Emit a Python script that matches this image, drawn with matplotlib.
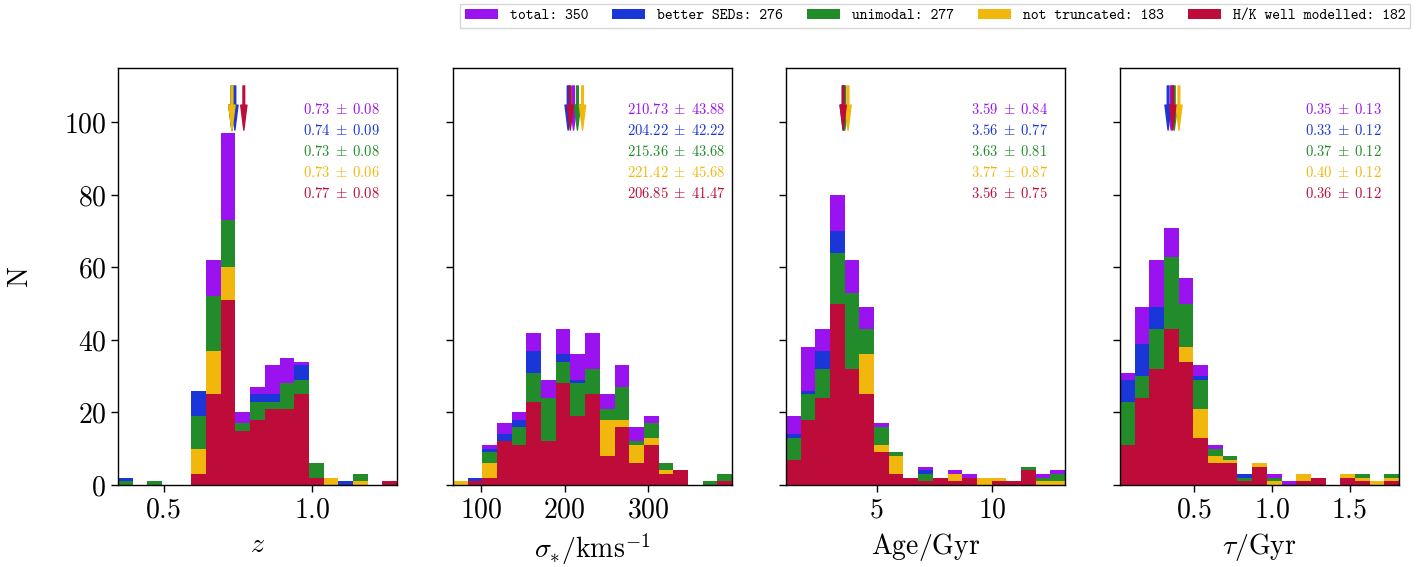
import numpy as np
import matplotlib
matplotlib.use("Agg")
import matplotlib.pyplot as plt
from matplotlib.patches import Patch

plt.rcParams['font.family'] = 'serif'
plt.rcParams['font.serif'] = ['cmr10', 'DejaVu Serif']
plt.rcParams['mathtext.fontset'] = 'cm'
plt.rcParams['axes.formatter.use_mathtext'] = True

# subsets, drawn in this order (each one on top of the previous)
labels = ['total: 350', 'better SEDs: 276', 'unimodal: 277',
          'not truncated: 183', 'H/K well modelled: 182']
colors = ['#9b12f0', '#1a36d8', '#228b2a', '#f2b70c', '#be0c3a']

# x ranges of the 19 equal-width bins per panel
z_range = (0.347, 1.285)
sig_range = (66.7, 400.0)
age_range = (1.09, 13.14)
tau_range = (0.02, 1.819)

# counts per bin (total, better SEDs, unimodal, not truncated, H/K)
z_counts = [
    [2, 0, 1, 0, 0, 26, 62, 97, 20, 27, 33, 35, 34, 6, 2, 1, 3, 0, 1],
    [2, 0, 1, 0, 0, 26, 48, 68, 15, 25, 25, 26, 33, 3, 1, 1, 2, 0, 0],
    [1, 0, 1, 0, 0, 19, 52, 73, 17, 23, 23, 28, 29, 6, 1, 0, 3, 0, 1],
    [0, 0, 0, 0, 0, 10, 37, 60, 11, 13, 15, 15, 18, 1, 2, 0, 1, 0, 0],
    [0, 0, 0, 0, 0, 3, 25, 51, 15, 18, 21, 21, 25, 2, 0, 0, 0, 0, 1],
]
sig_counts = [
    [1, 2, 11, 17, 20, 42, 29, 43, 36, 42, 25, 33, 16, 19, 6, 4, 0, 1, 3],
    [1, 2, 10, 14, 18, 37, 22, 36, 29, 29, 18, 24, 10, 15, 5, 3, 0, 1, 2],
    [1, 1, 9, 12, 16, 31, 24, 34, 28, 32, 21, 27, 12, 17, 6, 2, 0, 1, 3],
    [1, 1, 6, 10, 9, 19, 9, 23, 15, 21, 18, 18, 11, 13, 4, 4, 0, 0, 1],
    [0, 1, 2, 12, 11, 23, 12, 28, 19, 25, 8, 16, 6, 11, 3, 4, 0, 0, 1],
]
age_counts = [
    [19, 38, 43, 80, 62, 49, 17, 9, 2, 5, 2, 4, 3, 2, 2, 1, 5, 3, 4],
    [14, 26, 37, 70, 48, 38, 13, 7, 2, 4, 2, 2, 1, 1, 1, 1, 5, 2, 2],
    [13, 25, 32, 64, 53, 43, 16, 9, 1, 3, 2, 2, 1, 1, 1, 1, 5, 2, 3],
    [6, 15, 20, 42, 26, 36, 11, 8, 1, 1, 1, 3, 2, 2, 2, 1, 4, 1, 1],
    [7, 18, 24, 50, 32, 25, 9, 3, 2, 1, 2, 1, 2, 0, 1, 1, 4, 0, 0],
]
tau_counts = [
    [31, 49, 62, 71, 57, 33, 11, 8, 3, 6, 3, 1, 3, 2, 0, 3, 3, 1, 3],
    [29, 39, 49, 58, 40, 30, 8, 6, 3, 4, 1, 0, 2, 1, 0, 2, 2, 0, 2],
    [23, 30, 43, 63, 50, 29, 10, 8, 2, 4, 2, 0, 2, 1, 0, 3, 3, 1, 3],
    [8, 20, 27, 33, 38, 21, 8, 7, 1, 6, 1, 0, 3, 2, 0, 3, 2, 1, 2],
    [11, 24, 32, 43, 34, 13, 6, 6, 1, 5, 0, 0, 1, 2, 0, 2, 1, 0, 1],
]

# mean and std per subset
z_stats = [(0.73, 0.08), (0.74, 0.09), (0.73, 0.08), (0.73, 0.06), (0.77, 0.08)]
sig_stats = [(210.73, 43.88), (204.22, 42.22), (215.36, 43.68), (221.42, 45.68), (206.85, 41.47)]
age_stats = [(3.59, 0.84), (3.56, 0.77), (3.63, 0.81), (3.77, 0.87), (3.56, 0.75)]
tau_stats = [(0.35, 0.13), (0.33, 0.12), (0.37, 0.12), (0.40, 0.12), (0.36, 0.12)]

panels = [
    (z_range, z_counts, z_stats, r'$z$', [0.5, 1.0]),
    (sig_range, sig_counts, sig_stats, r'$\sigma_{*}/\mathrm{kms}^{-1}$', [100, 200, 300]),
    (age_range, age_counts, age_stats, r'$\mathrm{Age/Gyr}$', [5, 10]),
    (tau_range, tau_counts, tau_stats, r'$\tau/\mathrm{Gyr}$', [0.5, 1.0, 1.5]),
]

fig = plt.figure(figsize=(14.2, 5.67), dpi=100)
lefts = [118, 453, 786, 1120]

for k, (xr, counts, stats, xlabel, xticks) in enumerate(panels):
    ax = fig.add_axes([lefts[k] / 1420, 82 / 567, 279 / 1420, 417 / 567])
    edges = np.linspace(xr[0], xr[1], 20)
    for c, col in zip(counts, colors):
        ax.stairs(c, edges, fill=True, color=col, lw=0)
    for (m, s), col in zip(stats, colors):
        ax.annotate('', xy=(m, 0.851), xytext=(m, 0.957),
                    xycoords=('data', 'axes fraction'),
                    arrowprops=dict(color=col, width=1.2, headwidth=4.5,
                                    headlength=18, shrink=0))
    for i, ((m, s), col) in enumerate(zip(stats, colors)):
        ax.text(0.8, 0.90 - 0.05 * i, r'$%.2f \;\pm\; %.2f$' % (m, s),
                transform=ax.transAxes, ha='center', va='center',
                color=col, fontsize=10.5)
    ax.set_xlim(xr)
    ax.set_ylim(0, 115)
    ax.set_xticks(xticks)
    ax.set_yticks([0, 20, 40, 60, 80, 100])
    ax.tick_params(direction='out', length=5, width=1, labelsize=20)
    for sp in ax.spines.values():
        sp.set_linewidth(1.0)
    ax.set_xlabel(xlabel, fontsize=20, labelpad=6)
    if k == 0:
        ax.set_ylabel('N', fontsize=20, labelpad=22)
    else:
        ax.set_yticklabels([])

handles = [Patch(facecolor=col, edgecolor='none') for col in colors]
fig.legend(handles, labels, loc='upper right', bbox_to_anchor=(1410 / 1420, 1 - 4 / 567),
           ncol=5, prop={'family': 'cmtt10', 'size': 10.8}, handlelength=2.2,
           handletextpad=0.8, columnspacing=1.6, borderpad=0.3, borderaxespad=0,
           fancybox=False)

fig.savefig('out.png', dpi=100)
